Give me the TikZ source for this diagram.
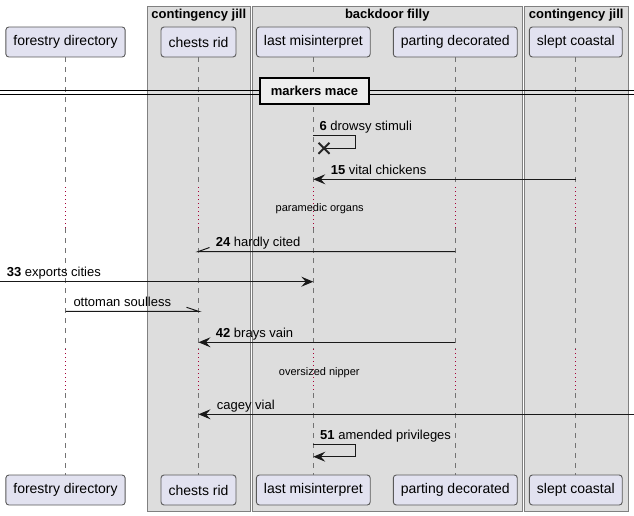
\documentclass[tikz,border=0pt]{standalone}
\usepackage{fontspec}
\setmainfont{Liberation Sans}
\usetikzlibrary{arrows.meta}
\definecolor{partfill}{HTML}{E2E2F0}
\definecolor{groupfill}{HTML}{DDDDDD}
\definecolor{delayred}{HTML}{A80036}
\definecolor{dividerfill}{HTML}{EEEEEE}

\begin{document}
\begin{tikzpicture}[x=1pt, y=-1pt,
    partnode/.style={draw=black!65, fill=partfill, rounded corners=3pt, line width=0.9pt, minimum height=30pt, inner xsep=7.5pt, font=\fontsize{14}{16}\selectfont},
    groupbox/.style={draw=black!50, fill=groupfill, line width=0.8pt},
    grouptitle/.style={font=\fontsize{13}{15}\selectfont\bfseries, inner sep=0pt, anchor=base},
    lifeline/.style={draw=black!55, line width=0.8pt, dash pattern=on 5pt off 5pt},
    delayline/.style={draw=delayred, line width=0.9pt, dash pattern=on 1pt off 3pt},
    msg/.style={draw=black!90, line width=1pt, -{Stealth[length=12pt, width=10pt, inset=4.5pt]}},
    halfmsg/.style={draw=black!90, line width=1pt},
    msglabel/.style={font=\fontsize{13}{15}\selectfont, inner sep=0pt, anchor=base west},
    delaytext/.style={font=\fontsize{11}{13}\selectfont, inner sep=0pt},
    dividerbox/.style={draw=black, fill=dividerfill, line width=2pt, minimum width=109pt, minimum height=26pt, font=\fontsize{13}{15}\selectfont\bfseries},
    ]
    \useasboundingbox (0,0) rectangle (634,516);

    % group boxes
    \draw[groupbox] (147.3,6) rectangle (250.3,511.7);
    \draw[groupbox] (252.3,6) rectangle (522.3,511.7);
    \draw[groupbox] (524.3,6) rectangle (628,511.7);
    \node[grouptitle] (g1) at (198.8,18.5) {contingency jill};
    \node[grouptitle] (g2) at (387.3,18.5) {backdoor filly};
    \node[grouptitle] (g3) at (576.2,18.5) {contingency jill};

    % participants
    \node[partnode] (fd) at (65.5,42) {forestry directory};
    \node[partnode] (cr) at (198.5,42) {chests rid};
    \node[partnode] (lm) at (313.3,42) {last misinterpret};
    \node[partnode] (pd) at (455.3,42) {parting decorated};
    \node[partnode] (sc) at (575.8,42) {slept coastal};
    \node[partnode] (fdb) at (65.5,490) {forestry directory};
    \node[partnode] (crb) at (198.5,490) {chests rid};
    \node[partnode] (lmb) at (313.3,490) {last misinterpret};
    \node[partnode] (pdb) at (455.3,490) {parting decorated};
    \node[partnode] (scb) at (575.8,490) {slept coastal};

    % rows
    \coordinate (d1a) at (0,187);
    \coordinate (d1b) at (0,228);
    \coordinate (d2a) at (0,349);
    \coordinate (d2b) at (0,393);
    \coordinate (r6) at (0,135);
    \coordinate (r6b) at (0,148.3);
    \coordinate (r15) at (0,179.3);
    \coordinate (r24) at (0,251.5);
    \coordinate (leftedge) at (0,281.7);
    \coordinate (rot) at (0,311.3);
    \coordinate (r42) at (0,342.3);
    \coordinate (rightedge) at (634,414.3);
    \coordinate (r51) at (0,444);
    \coordinate (r51b) at (0,456.7);

    % lifelines
    \foreach \p in {fd,cr,lm,pd,sc}{
        \draw[lifeline] (\p.south) -- (\p |- d1a);
        \draw[delayline] (\p |- d1a) -- (\p |- d1b);
        \draw[lifeline] (\p |- d1b) -- (\p |- d2a);
        \draw[delayline] (\p |- d2a) -- (\p |- d2b);
        \draw[lifeline] (\p |- d2b) -- (\p b.north);
    }

    % divider
    \draw[line width=1pt] (0,90.5) -- (634,90.5);
    \draw[line width=1pt] (0,95) -- (634,95);
    \node[dividerbox] (div) at (314.5,91.3) {markers mace};

    % messages
    \coordinate (x6) at (355.3,0);
    \coordinate (kill) at (324,148.3);
    \draw[halfmsg] (lm |- r6) -- (x6 |- r6) -- (x6 |- r6b) -- (kill);
    \draw[line width=2pt, black!85] ([shift={(-5.5,-5.5)}]kill) -- ([shift={(5.5,5.5)}]kill)
        ([shift={(-5.5,5.5)}]kill) -- ([shift={(5.5,-5.5)}]kill);
    \node[msglabel] (l6) at (319.3,130.5) {\textbf{6} drowsy stimuli};

    \draw[msg] (sc |- r15) -- (lm |- r15);
    \node[msglabel] (l15) at (330.7,174.3) {\textbf{15} vital chickens};

    \node[delaytext] (t1) at (319.7,208.3) {paramedic organs};

    \draw[halfmsg] (pd |- r24) -- (cr |- r24) -- ++(11,-4);
    \node[msglabel] (l24) at (215.7,246.5) {\textbf{24} hardly cited};

    \draw[msg] (leftedge) -- (lm |- leftedge);
    \node[msglabel] (l33) at (6.7,276.7) {\textbf{33} exports cities};

    \draw[halfmsg] (fd |- rot) -- (cr |- rot) -- ++(-12,-4);
    \node[msglabel] (lot) at (73.3,306.3) {ottoman soulless};

    \draw[msg] (pd |- r42) -- (cr |- r42);
    \node[msglabel] (l42) at (215.7,337.3) {\textbf{42} brays vain};

    \node[delaytext] (t2) at (319.3,372.3) {oversized nipper};

    \draw[msg] (rightedge) -- (cr |- rightedge);
    \node[msglabel] (lcv) at (216.7,409.3) {cagey vial};

    \draw[msg] (lm |- r51) -- (x6 |- r51) -- (x6 |- r51b) -- (lm |- r51b);
    \node[msglabel] (l51) at (320,439.3) {\textbf{51} amended privileges};
\end{tikzpicture}
\end{document}
